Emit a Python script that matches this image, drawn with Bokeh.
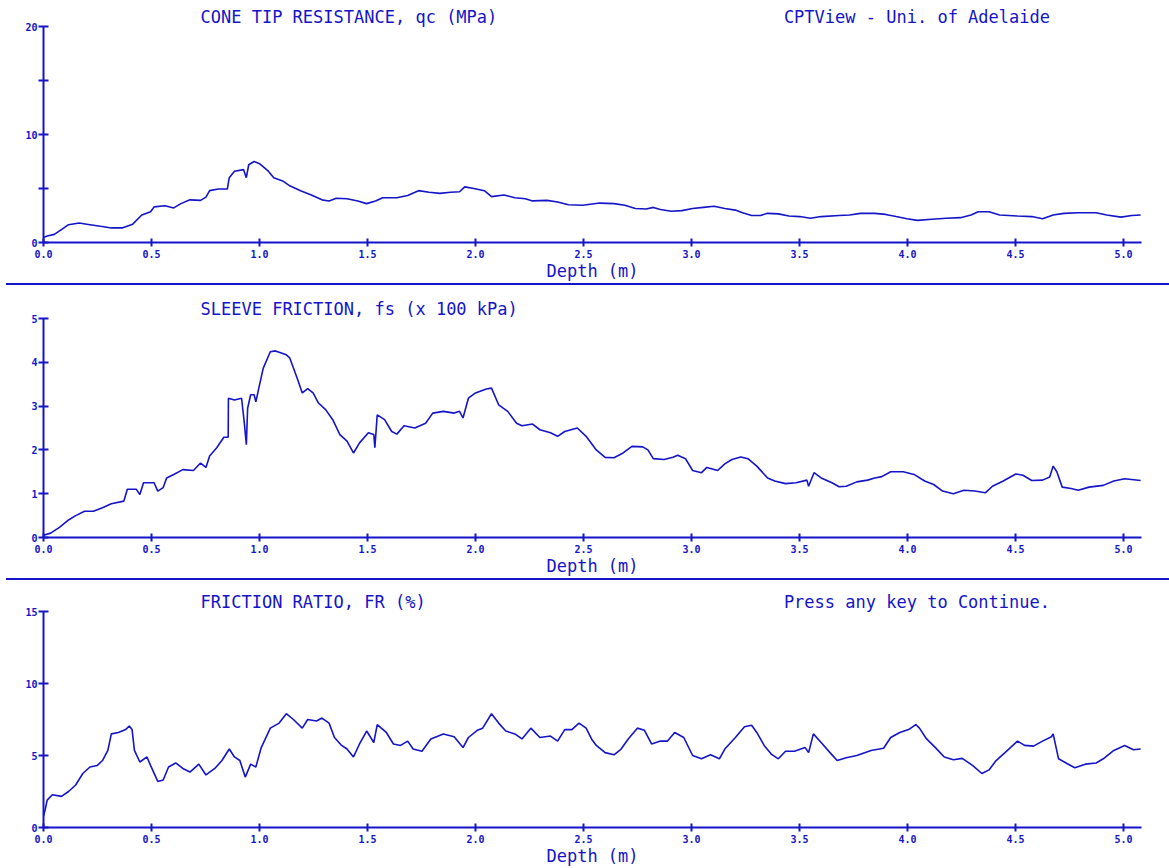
from bokeh.plotting import figure
from bokeh.layouts import column
from bokeh.models import Range1d, FixedTicker, NumeralTickFormatter, Title, Div
from bokeh.embed import file_html
from bokeh.resources import INLINE

BLUE = "#1414c8"
FONT = "DejaVu Sans Mono"

x_ticks = [0.0, 0.5, 1.0, 1.5, 2.0, 2.5, 3.0, 3.5, 4.0, 4.5, 5.0]
x_max = 5.083

qc_depth = [0.0, 0.017, 0.05, 0.083, 0.116, 0.165, 0.215, 0.264, 0.314, 0.364, 0.413, 0.455, 0.496, 0.512,
            0.562, 0.603, 0.636, 0.678, 0.727, 0.752, 0.769, 0.810, 0.851, 0.860, 0.884, 0.926, 0.939, 0.950,
            0.975, 1.0, 1.041, 1.066, 1.107, 1.140, 1.190, 1.240, 1.289, 1.322, 1.355, 1.405, 1.455, 1.496,
            1.537, 1.570, 1.636, 1.686, 1.736, 1.785, 1.835, 1.884, 1.926, 1.950, 1.992, 2.041, 2.074, 2.132,
            2.182, 2.231, 2.264, 2.331, 2.380, 2.430, 2.496,
            2.575, 2.641, 2.691, 2.740, 2.790, 2.823, 2.856, 2.906, 2.955, 3.005, 3.055, 3.104, 3.154, 3.203,
            3.236, 3.278, 3.319, 3.352, 3.402, 3.451, 3.501, 3.550, 3.600, 3.683, 3.732, 3.782, 3.848, 3.898,
            3.947, 3.997, 4.046, 4.112, 4.179, 4.245, 4.294, 4.327, 4.377, 4.426, 4.509, 4.575, 4.625, 4.674,
            4.724, 4.790, 4.873, 4.922, 4.988, 5.038, 5.079]
qc_values = [0.45, 0.6, 0.75, 1.2, 1.65, 1.8, 1.65, 1.5, 1.35, 1.35, 1.7, 2.55, 2.85, 3.3,
             3.4, 3.2, 3.6, 3.95, 3.9, 4.2, 4.8, 4.95, 4.95, 6.0, 6.6, 6.75, 6.0, 7.2,
             7.5, 7.3, 6.6, 6.0, 5.7, 5.25, 4.8, 4.4, 3.95, 3.85, 4.1, 4.05, 3.85, 3.6,
             3.85, 4.15, 4.15, 4.35, 4.8, 4.65, 4.55, 4.65, 4.7, 5.15, 5.0, 4.8, 4.25, 4.4,
             4.15, 4.05, 3.85, 3.9, 3.75, 3.5, 3.45,
             3.65, 3.6, 3.45, 3.15, 3.1, 3.25, 3.05, 2.9, 2.95, 3.15, 3.25, 3.35, 3.15, 3.0,
             2.75, 2.5, 2.5, 2.7, 2.65, 2.45, 2.4, 2.25, 2.4, 2.5, 2.55, 2.7, 2.7, 2.6,
             2.4, 2.2, 2.05, 2.15, 2.25, 2.3, 2.55, 2.85, 2.85, 2.55, 2.45, 2.4, 2.2, 2.55,
             2.7, 2.75, 2.75, 2.55, 2.35, 2.5, 2.55]

fs_depth = [0.0, 0.033, 0.074, 0.116, 0.149, 0.190, 0.231, 0.273, 0.314, 0.372, 0.388, 0.430, 0.446, 0.463,
            0.512, 0.529, 0.554, 0.570, 0.603, 0.645, 0.694, 0.727, 0.752, 0.769, 0.802, 0.835, 0.855, 0.856,
            0.884, 0.917, 0.929, 0.939, 0.945, 0.959, 0.975, 0.983, 0.995, 1.017, 1.050, 1.074, 1.124, 1.140,
            1.174, 1.198, 1.223, 1.248, 1.273, 1.306, 1.339, 1.372, 1.405, 1.435, 1.463, 1.504, 1.529, 1.534,
            1.545, 1.579, 1.612, 1.636, 1.669, 1.719, 1.769, 1.802, 1.851, 1.901, 1.926, 1.942, 1.967, 2.000,
            2.050, 2.074, 2.107, 2.149, 2.190, 2.215, 2.264, 2.298, 2.347, 2.380, 2.413, 2.471, 2.512,
            2.559, 2.600, 2.641, 2.683, 2.724, 2.774, 2.798, 2.823, 2.873, 2.914, 2.936, 2.972, 3.005, 3.046,
            3.071, 3.121, 3.154, 3.187, 3.228, 3.261, 3.302, 3.352, 3.385, 3.435, 3.484, 3.534, 3.542, 3.567,
            3.600, 3.650, 3.683, 3.716, 3.765, 3.815, 3.848, 3.881, 3.922, 3.980, 4.030, 4.079, 4.121, 4.162,
            4.212, 4.261, 4.311, 4.360, 4.393, 4.443, 4.501, 4.534, 4.575, 4.625, 4.658, 4.674, 4.691, 4.716,
            4.757, 4.790, 4.840, 4.906, 4.955, 5.005, 5.079]
fs_values = [0.05, 0.1, 0.23, 0.4, 0.5, 0.6, 0.6, 0.68, 0.77, 0.83, 1.1, 1.1, 0.98, 1.25,
             1.25, 1.06, 1.14, 1.36, 1.44, 1.55, 1.53, 1.7, 1.6, 1.86, 2.05, 2.29, 2.29, 3.18,
             3.14, 3.18, 2.65, 2.12, 2.95, 3.26, 3.26, 3.1, 3.37, 3.86, 4.24, 4.26, 4.17, 4.1,
             3.64, 3.3, 3.4, 3.3, 3.07, 2.92, 2.69, 2.35, 2.2, 1.93, 2.16, 2.39, 2.35, 2.05,
             2.8, 2.69, 2.42, 2.36, 2.55, 2.5, 2.61, 2.84, 2.88, 2.84, 2.88, 2.73, 3.18, 3.3,
             3.39, 3.41, 3.03, 2.88, 2.61, 2.55, 2.59, 2.46, 2.39, 2.31, 2.42, 2.5, 2.31,
             2.0, 1.83, 1.82, 1.93, 2.08, 2.07, 2.0, 1.8, 1.78, 1.83, 1.88, 1.8, 1.53, 1.48,
             1.6, 1.53, 1.68, 1.78, 1.84, 1.8, 1.63, 1.36, 1.29, 1.23, 1.25, 1.31, 1.17, 1.48,
             1.36, 1.25, 1.16, 1.17, 1.27, 1.31, 1.36, 1.39, 1.5, 1.5, 1.44, 1.29, 1.21, 1.06,
             1.0, 1.08, 1.06, 1.02, 1.17, 1.29, 1.45, 1.42, 1.3, 1.31, 1.38, 1.63, 1.5, 1.15,
             1.12, 1.08, 1.15, 1.19, 1.29, 1.34, 1.3]

fr_depth = [0.0, 0.008, 0.017, 0.041, 0.083, 0.116, 0.149, 0.182, 0.215, 0.248, 0.273, 0.298, 0.314, 0.347,
            0.380, 0.397, 0.410, 0.421, 0.446, 0.479, 0.496, 0.529, 0.554, 0.579, 0.612, 0.645, 0.678, 0.719,
            0.752, 0.793, 0.826, 0.860, 0.884, 0.909, 0.934, 0.959, 0.983, 1.008, 1.050, 1.091, 1.124, 1.157,
            1.198, 1.223, 1.264, 1.289, 1.322, 1.347, 1.380, 1.405, 1.435, 1.463, 1.496, 1.529, 1.545, 1.587,
            1.620, 1.653, 1.686, 1.711, 1.752, 1.793, 1.851, 1.901, 1.942, 1.967, 2.008, 2.033, 2.074, 2.107,
            2.140, 2.182, 2.215, 2.256, 2.298, 2.347, 2.380, 2.413, 2.446, 2.479, 2.512, 2.537,
            2.559, 2.600, 2.641, 2.674, 2.707, 2.749, 2.782, 2.815, 2.856, 2.889, 2.922, 2.964, 3.005, 3.046,
            3.088, 3.129, 3.154, 3.203, 3.245, 3.278, 3.302, 3.336, 3.369, 3.402, 3.435, 3.476, 3.526, 3.542,
            3.564, 3.600, 3.641, 3.674, 3.716, 3.765, 3.831, 3.889, 3.922, 3.964, 4.005, 4.038, 4.055, 4.088,
            4.129, 4.170, 4.212, 4.253, 4.302, 4.344, 4.377, 4.410, 4.451, 4.509, 4.542, 4.583, 4.625, 4.666,
            4.674, 4.699, 4.740, 4.774, 4.823, 4.873, 4.906, 4.955, 5.005, 5.046, 5.079]
fr_values = [0.8, 1.25, 1.9, 2.27, 2.16, 2.5, 2.95, 3.75, 4.2, 4.3, 4.65, 5.35, 6.5, 6.6,
             6.8, 7.05, 6.8, 5.35, 4.55, 4.9, 4.3, 3.2, 3.3, 4.2, 4.48, 4.1, 3.85, 4.4,
             3.65, 4.1, 4.65, 5.45, 4.9, 4.65, 3.5, 4.4, 4.2, 5.55, 6.9, 7.25, 7.9, 7.5,
             6.9, 7.5, 7.4, 7.6, 7.25, 6.25, 5.7, 5.45, 4.9, 5.8, 6.7, 5.9, 7.15, 6.6,
             5.8, 5.7, 6.0, 5.45, 5.3, 6.15, 6.5, 6.3, 5.55, 6.25, 6.75, 6.9, 7.9, 7.25,
             6.7, 6.5, 6.15, 6.9, 6.25, 6.35, 6.0, 6.8, 6.8, 7.25, 6.9, 6.15,
             5.7, 5.2, 5.05, 5.45, 6.15, 6.9, 6.75, 5.8, 6.0, 6.0, 6.6, 6.25, 5.0, 4.77,
             5.05, 4.77, 5.45, 6.25, 7.0, 7.1, 6.6, 5.7, 5.1, 4.77, 5.3, 5.3, 5.55, 5.2,
             6.5, 5.9, 5.2, 4.65, 4.85, 5.0, 5.35, 5.5, 6.25, 6.6, 6.8, 7.15, 6.9, 6.15,
             5.55, 4.9, 4.7, 4.8, 4.3, 3.75, 4.0, 4.65, 5.2, 6.0, 5.7, 5.65, 6.0, 6.3,
             6.5, 4.77, 4.43, 4.15, 4.4, 4.48, 4.77, 5.35, 5.7, 5.4, 5.45]

qc_ticks = [0, 5, 10, 15, 20]
fs_ticks = [0, 1, 2, 3, 4, 5]
fr_ticks = [0, 5, 10, 15]

titles = ["CONE TIP RESISTANCE, qc (MPa)", "SLEEVE FRICTION, fs (x 100 kPa)", "FRICTION RATIO, FR (%)"]
right_texts = ["CPTView - Uni. of Adelaide", "", "Press any key to Continue."]
x_label = "Depth (m)"

W = 1169
NBSP = "\u00a0"


def header(title, right_text):
    if not right_text:
        return title
    return title + NBSP * (57 - len(title)) + right_text


def make_panel(xs, ys, ymax, yticks, overrides, height, btop, bbot, title, right_text):
    p = figure(width=W, height=height, output_backend="svg", toolbar_location=None,
               x_range=Range1d(0, x_max), y_range=Range1d(0, ymax),
               min_border_left=43, min_border_right=28, min_border_top=btop, min_border_bottom=bbot)
    p.outline_line_color = None
    p.xgrid.visible = False
    p.ygrid.visible = False
    p.background_fill_color = "white"
    p.border_fill_color = "white"
    p.line(xs, ys, line_color=BLUE, line_width=1.6)
    for ax in (p.xaxis[0], p.yaxis[0]):
        ax.axis_line_color = BLUE
        ax.axis_line_width = 2
        ax.major_tick_line_color = BLUE
        ax.major_tick_line_width = 2
        ax.minor_tick_line_color = None
        ax.major_label_text_color = BLUE
        ax.major_label_text_font = FONT
        ax.major_label_text_font_style = "bold"
        ax.major_label_text_font_size = "10px"
    p.xaxis.ticker = FixedTicker(ticks=x_ticks)
    p.xaxis.formatter = NumeralTickFormatter(format="0.0")
    p.xaxis.major_tick_in = 4
    p.xaxis.major_tick_out = 4
    p.xaxis.major_label_standoff = 3
    p.xaxis.axis_label = x_label
    p.xaxis.axis_label_text_font = FONT
    p.xaxis.axis_label_text_font_size = "17px"
    p.xaxis.axis_label_text_font_style = "normal"
    p.xaxis.axis_label_text_color = BLUE
    p.xaxis.axis_label_standoff = 0
    p.yaxis.ticker = FixedTicker(ticks=yticks)
    p.yaxis.major_tick_in = 5
    p.yaxis.major_tick_out = 5
    p.yaxis.major_label_standoff = 1
    if overrides:
        p.yaxis.major_label_overrides = overrides
    p.add_layout(Title(text=header(title, right_text), align="left", offset=157, standoff=0,
                       text_font=FONT, text_font_size="17px", text_font_style="normal",
                       text_color=BLUE), "above")
    return p


p1 = make_panel(qc_depth, qc_values, 20, qc_ticks, {5: "", 15: ""}, 283, 26, 39,
                titles[0], right_texts[0])
p2 = make_panel(fs_depth, fs_values, 5, fs_ticks, None, 293, 33, 41,
                titles[1], right_texts[1])
p3 = make_panel(fr_depth, fr_values, 15, fr_ticks, None, 288, 31, 38,
                titles[2], right_texts[2])

sep1 = Div(width=W - 6, height=2, margin=(0, 0, 0, 6), styles={"background-color": BLUE})
sep2 = Div(width=W - 6, height=2, margin=(0, 0, 0, 6), styles={"background-color": BLUE})

layout = column(p1, sep1, p2, sep2, p3, spacing=0)

open("out.html", "w").write(file_html(layout, INLINE))
